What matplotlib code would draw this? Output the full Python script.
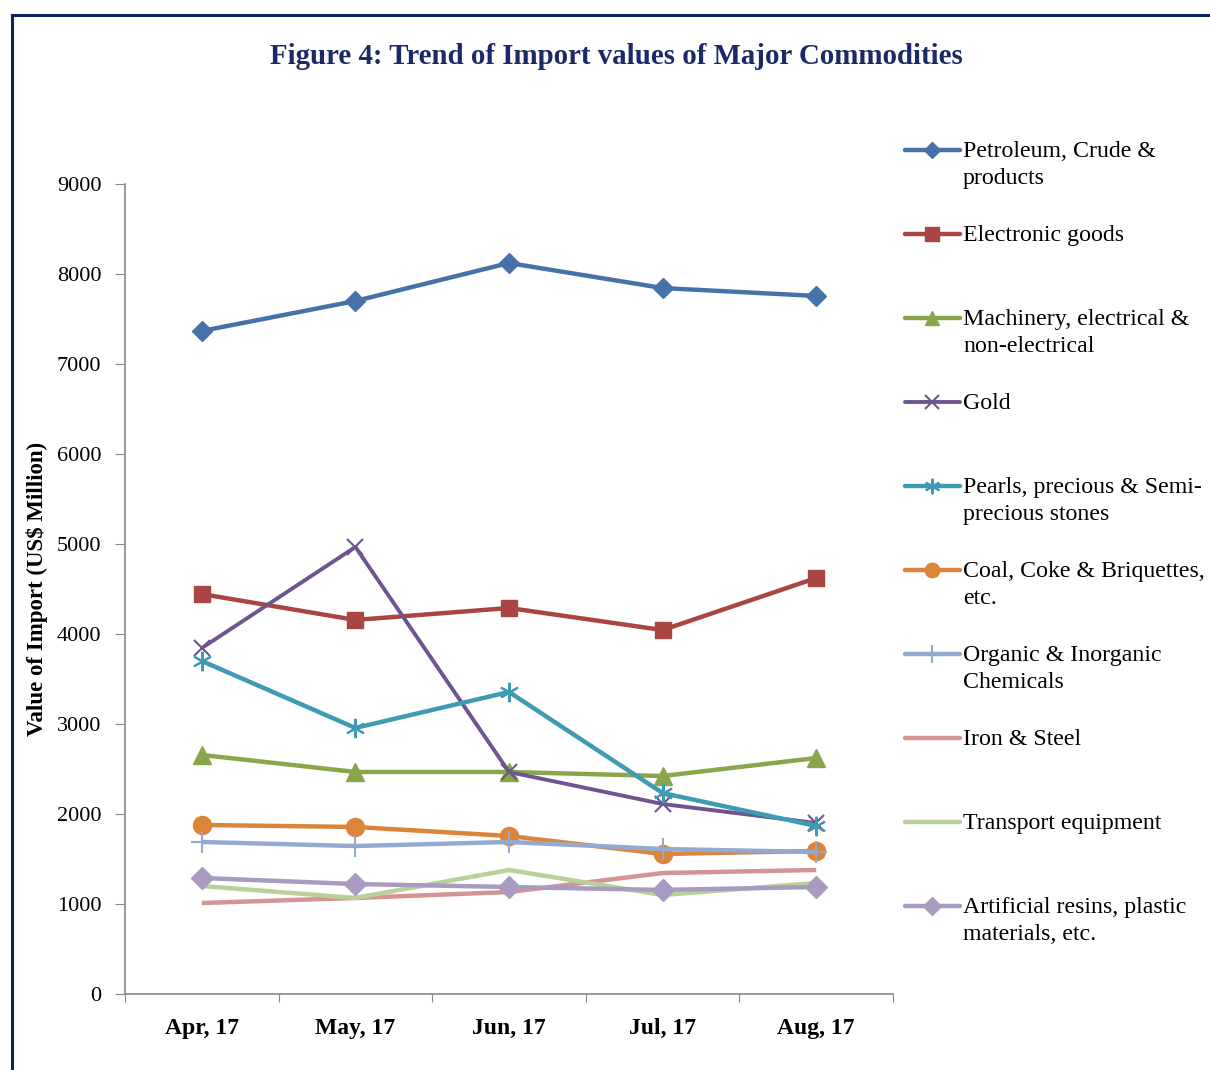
import matplotlib
matplotlib.use('Agg')
import matplotlib.pyplot as plt
from matplotlib.lines import Line2D

plt.rcParams['font.family'] = ['Liberation Serif', 'DejaVu Serif']

months = ['Apr, 17', 'May, 17', 'Jun, 17', 'Jul, 17', 'Aug, 17']

petroleum = [7367, 7700, 8122, 7844, 7756]
electronic = [4444, 4156, 4289, 4044, 4622]
machinery = [2656, 2467, 2467, 2422, 2622]
gold = [3844, 4967, 2467, 2111, 1900]
pearls = [3700, 2956, 3356, 2233, 1867]
coal = [1878, 1856, 1756, 1556, 1589]
organic = [1689, 1644, 1689, 1611, 1578]
iron = [1011, 1067, 1133, 1344, 1378]
transport = [1200, 1067, 1378, 1100, 1233]
resins = [1289, 1222, 1189, 1156, 1189]

labels = [
    'Petroleum, Crude &\nproducts',
    'Electronic goods',
    'Machinery, electrical &\nnon-electrical',
    'Gold',
    'Pearls, precious & Semi-\nprecious stones',
    'Coal, Coke & Briquettes,\netc.',
    'Organic & Inorganic\nChemicals',
    'Iron & Steel',
    'Transport equipment',
    'Artificial resins, plastic\nmaterials, etc.',
]
series = [petroleum, electronic, machinery, gold, pearls, coal, organic, iron, transport, resins]

# colour, marker, marker size, marker edge width, line width
styles = [
    ('#4672aa', 'D', 10, 1.0, 3.2),
    ('#a94643', 's', 12, 1.0, 3.2),
    ('#8aa64b', '^', 13, 1.0, 3.2),
    ('#6e5490', 'x', 12, 1.5, 2.8),
    ('#3f9ab3', (6, 2, 0), 14, 1.5, 3.2),
    ('#dc843a', 'o', 13, 1.0, 3.2),
    ('#93a9d0', '+', 16, 1.5, 3.2),
    ('#d49494', 'None', 0, 0, 3.2),
    ('#b9d199', 'None', 0, 0, 3.2),
    ('#a89ac0', 'D', 11, 1.0, 3.2),
]

fig = plt.figure(figsize=(12.1, 10.7), dpi=100)
W, H = 1210, 1070

# outer border (left + top)
navy = '#0f2260'
fig.add_artist(Line2D([12 / W, 12 / W], [0, 1 - 15 / H], color=navy, lw=2.2))
fig.add_artist(Line2D([12 / W, 1], [1 - 15 / H, 1 - 15 / H], color=navy, lw=2.2))

fig.text(616 / W, 1 - 56 / H, 'Figure 4: Trend of Import values of Major Commodities',
         ha='center', va='center', fontsize=20.8, fontweight='bold', color='#1b2a66')

ax = fig.add_axes([125 / W, 76 / H, 768 / W, 810 / H])
x = list(range(len(months)))
for vals, (c, m, ms, mew, lw) in zip(series, styles):
    ax.plot(x, vals, color=c, lw=lw, marker=m, markersize=ms, markeredgewidth=mew,
            markeredgecolor=c, markerfacecolor=c, solid_joinstyle='round', solid_capstyle='butt')

ax.set_xlim(-0.5, 4.5)
ax.set_ylim(0, 9000)
ax.set_yticks(range(0, 9001, 1000))
ax.set_xticks([i - 0.5 for i in range(6)])
ax.set_xticklabels([])
ax.set_xticks(x, minor=True)
ax.set_xticklabels(months, minor=True, fontsize=17, fontweight='bold')
ax.tick_params(axis='x', which='minor', length=0, pad=17)
ax.tick_params(axis='x', which='major', length=6, color='#888888', direction='out')
ax.tick_params(axis='y', length=7, color='#888888', labelsize=16, pad=10)
for s in ['top', 'right']:
    ax.spines[s].set_visible(False)
for s in ['left', 'bottom']:
    ax.spines[s].set_color('#888888')
    ax.spines[s].set_linewidth(1.2)

fig.text(37 / W, 1 - 589 / H, 'Value of Import (US$ Million)', rotation=90,
         ha='center', va='center', fontsize=16.5, fontweight='bold')

# legend drawn by hand to keep Excel's even spacing
for i, (lab, (c, m, ms, mew, lw)) in enumerate(zip(labels, styles)):
    yl = 150 + 84 * i
    y = 1 - yl / H
    fig.add_artist(Line2D([905 / W, 960 / W], [y, y], color=c, lw=lw, solid_capstyle='round'))
    if m != 'None':
        fig.add_artist(Line2D([932 / W], [y], color=c, marker=m, markersize=ms * 0.8,
                              markeredgewidth=mew, markeredgecolor=c, markerfacecolor=c))
    fig.text(963 / W, 1 - (yl - 9) / H, lab, ha='left', va='top', fontsize=17.2,
             linespacing=1.37)

fig.savefig('out.png', dpi=100, facecolor='white')
